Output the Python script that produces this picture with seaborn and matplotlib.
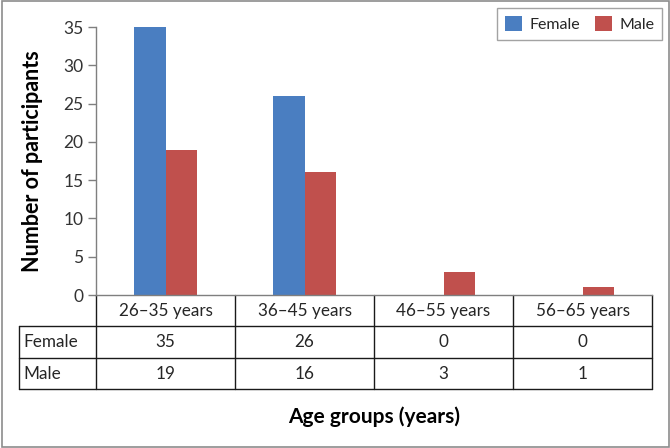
import matplotlib
matplotlib.use("Agg")
import matplotlib.pyplot as plt
import seaborn as sns
import pandas as pd
from matplotlib.patches import Patch, Rectangle
from matplotlib.lines import Line2D

categories = ["26\u201335 years", "36\u201345 years", "46\u201355 years", "56\u201365 years"]
female = [35, 26, 0, 0]
male = [19, 16, 3, 1]
series_names = ["Female", "Male"]
y_ticks = [0, 5, 10, 15, 20, 25, 30, 35]

colors = {"Female": "#4A7EC1", "Male": "#C0504D"}

df = pd.DataFrame({
    "Age group": categories * 2,
    "Count": female + male,
    "Sex": ["Female"] * len(categories) + ["Male"] * len(categories),
})

sns.set_theme(style="white")
plt.rcParams["font.family"] = ["Lato", "DejaVu Sans"]

fig = plt.figure(figsize=(6.7, 4.48), dpi=100)
W, H = 670, 448
x0, x1 = 96, 652
y0, y1 = 295, 27
ax = fig.add_axes([x0 / W, 1 - y0 / H, (x1 - x0) / W, (y0 - y1) / H])

sns.barplot(data=df, x="Age group", y="Count", hue="Sex", order=categories,
            hue_order=series_names, palette=colors, width=0.46, gap=0,
            saturation=1, ax=ax, legend=False, linewidth=0)

ax.set_xlim(-0.5, len(categories) - 0.5)
ax.set_ylim(0, 35)
ax.set_yticks(y_ticks)
ax.set_xticks([])
ax.set_xlabel("")
ax.set_ylabel("Number of participants", fontsize=15.5, fontweight="bold",
              color="#000000")
ax.yaxis.set_label_coords((43 - x0) / (x1 - x0), 0.5)
ax.tick_params(axis="y", length=6, width=1, color="#7f7f7f", direction="out",
               labelsize=12.5, labelcolor="#333333", pad=3, left=True)
for s in ["top", "right"]:
    ax.spines[s].set_visible(False)
ax.spines["left"].set_color("#7f7f7f")
ax.spines["bottom"].set_color("#7f7f7f")
ax.spines["left"].set_linewidth(1)
ax.spines["bottom"].set_linewidth(1)

# data table below the axes (axes coords)
ph = (y0 - y1)
def ay(py):
    return -(py - y0) / ph
def axx(px):
    return (px - x0) / (x1 - x0)

left_px = 19
lc = "#1a1a1a"
lw = 1.0
for py in [326, 358, 389]:
    ax.add_line(Line2D([axx(left_px), 1], [ay(py)] * 2, color=lc, lw=lw,
                       transform=ax.transAxes, clip_on=False))
ax.add_line(Line2D([axx(left_px)] * 2, [ay(326), ay(389)], color=lc, lw=lw,
                   transform=ax.transAxes, clip_on=False))
n = len(categories)
for i in range(n + 1):
    xa = i / n
    ax.add_line(Line2D([xa] * 2, [0, ay(389)], color=lc, lw=lw,
                       transform=ax.transAxes, clip_on=False))

txt_kw = dict(transform=ax.transAxes, fontsize=12.3, color="#262626", va="center", clip_on=False)
for i, cat in enumerate(categories):
    xc = (i + 0.5) / n
    ax.text(xc, ay((295 + 326) / 2), cat, ha="center", **txt_kw)
    ax.text(xc, ay((326 + 358) / 2), str(female[i]), ha="center", **txt_kw)
    ax.text(xc, ay((358 + 389) / 2), str(male[i]), ha="center", **txt_kw)
ax.text(axx(left_px + 4), ay((326 + 358) / 2), series_names[0], ha="left", **txt_kw)
ax.text(axx(left_px + 4), ay((358 + 389) / 2), series_names[1], ha="left", **txt_kw)

fig.text(374 / W, 1 - 417 / H, "Age groups (years)", ha="center", va="center",
         fontsize=15, fontweight="bold", color="#000000")

# legend
handles = [Patch(facecolor=colors[s], edgecolor="none", label=s) for s in series_names]
leg = fig.legend(handles=handles, loc="upper right", ncol=2,
                 bbox_to_anchor=(662 / W, 1 - 8 / H), frameon=True, fancybox=False,
                 fontsize=11.5, handlelength=1.05, handleheight=1.05, handletextpad=0.45,
                 columnspacing=0.95, borderpad=0.5, borderaxespad=0)
leg.get_frame().set_edgecolor("#8c8c8c")
leg.get_frame().set_linewidth(1)
for t in leg.get_texts():
    t.set_color("#262626")

# outer border
fig.add_artist(Rectangle((1.5 / W, 1.5 / H), (W - 3) / W, (H - 3) / H, transform=fig.transFigure,
                         fill=False, edgecolor="#8c8c8c", linewidth=1.2))

fig.savefig("out.png", dpi=100)
